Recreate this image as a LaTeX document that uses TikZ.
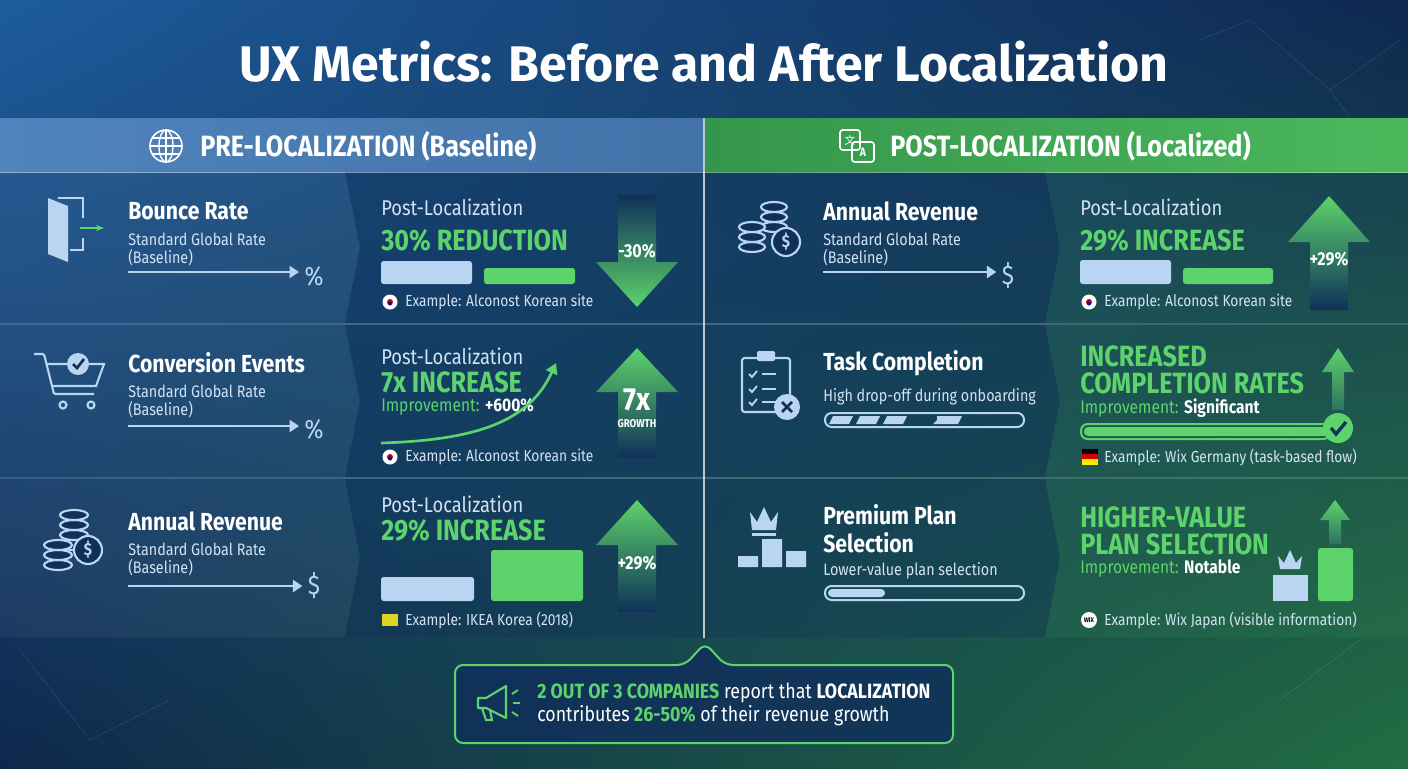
\documentclass[tikz,border=0pt]{standalone}
\usepackage{fontspec}
\setmainfont[FakeStretch=0.86]{Fira Sans}
\newfontfamily\titlefont{Fira Sans}
\newfontfamily\cjk{Noto Sans CJK SC}
\usetikzlibrary{arrows.meta,shadings}
\definecolor{gr}{HTML}{5CD36B}
\definecolor{lb}{HTML}{B9D5F2}
\definecolor{tx}{HTML}{D4E3F3}
\definecolor{navy}{HTML}{10305A}
\definecolor{bgul}{HTML}{1E5C9E}
\definecolor{bgur}{HTML}{0E2850}
\definecolor{bgll}{HTML}{0E284C}
\definecolor{bglr}{HTML}{226E42}
\definecolor{hl1}{HTML}{5084BC}
\definecolor{hl2}{HTML}{4272A8}
\definecolor{hr1}{HTML}{34964C}
\definecolor{hr2}{HTML}{4CB85C}
\tikzset{
 every node/.style={inner sep=0pt},
 ttl/.style={anchor=west,text=white,font=\bfseries\fontsize{18.5}{21}\selectfont},
 sub/.style={anchor=west,text=tx,font=\fontsize{12.5}{13.5}\selectfont,align=left},
 post/.style={anchor=west,text=tx,font=\fontsize{16}{18}\selectfont},
 big/.style={anchor=west,text=gr,font=\bfseries\fontsize{22}{20}\selectfont,align=left},
 imp/.style={anchor=west,text=gr,font=\fontsize{13.6}{15}\selectfont},
 ex/.style={anchor=west,text=tx,font=\fontsize{12}{13}\selectfont},
 ico/.style={draw=lb,line width=1.6,fill=none},
 larr/.style={draw=lb,line width=1.5,-{Triangle[length=7,width=9]}},
 sym/.style={text=lb,font=\fontsize{20}{20}\selectfont},
 sep/.style={draw=white,opacity=0.18,line width=1},
 hdr/.style={anchor=west,text=white,font=\bfseries\fontsize{22}{24}\selectfont},
}
\begin{document}
\begin{tikzpicture}[x=0.75pt,y=-0.75pt]
\useasboundingbox (0,0) rectangle (1408,768);
% background
\shade[upper left=bgul,upper right=bgur,lower left=bgll,lower right=bglr] (0,0) rectangle (1408,768);
\foreach \a/\b in {{1250,20}/{1330,90},{1330,90}/{1400,40},{1330,90}/{1380,160},{20,650}/{90,740},{90,740}/{170,700},{1280,700}/{1360,640},{1200,40}/{1250,20}}
 \draw[white,opacity=0.12] (\a) -- (\b);
% title
\node[text=white,font=\titlefont\bfseries\fontsize{37.5}{40}\selectfont] (title) at (704,62) {UX Metrics: Before and After Localization};
% headers
\shade[left color=hl1,right color=hl2] (0,118) rectangle (703,172);
\shade[left color=hr1,right color=hr2] (705,118) rectangle (1408,172);
\node[hdr] (hl) at (200,146) {PRE-LOCALIZATION (Baseline)};
\node[hdr] (hr) at (890,146) {POST-LOCALIZATION (Localized)};
% globe icon
\draw[white,line width=1.2] (166,146) circle (16);
\draw[white,line width=1] (166,130) -- (166,162) (150,146) -- (182,146) (152,138) -- (180,138) (152,154) -- (180,154);
\draw[white,line width=1] (166,146) ellipse (7 and 16);
% translate icon
\draw[white,line width=1.2,rounded corners=2] (840,130) rectangle (860,150) (852,142) rectangle (874,162);
\node[white,font=\bfseries\fontsize{9}{9}\selectfont] (tA) at (863,152) {A};
\node[white,font=\cjk\fontsize{8}{8}\selectfont] (tB) at (850,140) {文};
% panels
\foreach \y/\h in {172/151,325/152,479/158}{
 \fill[white,opacity=0.05] (0,\y) -- (345,\y) -- (360,\y+\h/2) -- (345,\y+\h) -- (0,\y+\h) -- cycle;
 \fill[navy,opacity=0.35] (345,\y) -- (703,\y) -- (703,\y+\h) -- (345,\y+\h) -- (360,\y+\h/2) -- cycle;
 \fill[navy,opacity=0.3] (705,\y) -- (1045,\y) -- (1060,\y+\h/2) -- (1045,\y+\h) -- (705,\y+\h) -- cycle;
 \fill[gr,opacity=0.08] (1045,\y) -- (1408,\y) -- (1408,\y+\h) -- (1045,\y+\h) -- (1060,\y+\h/2) -- cycle;
}
\draw[sep] (0,324) -- (1408,324) (0,478) -- (1408,478);
\draw[white,opacity=0.7,line width=1] (704,118) -- (704,638);
\draw[white,opacity=0.35] (0,172) -- (1408,172);

% ===== LEFT ROW 1 =====
\fill[lb] (48,198) -- (68,206) -- (68,262) -- (48,254) -- cycle;
\draw[ico] (58,198) -- (83,198) -- (83,218) (83,238) -- (83,250) -- (70,250);
\draw[gr,line width=2,-{Stealth[length=6]}] (80,228) -- (104,228);
\node[ttl] (t1) at (128,211) {Bounce Rate};
\node[sub] (s1) at (128,249) {Standard Global Rate\\(Baseline)};
\node[sym] (p1) at (314,276) {\%};
\coordinate (a1) at (128,272);
\draw[larr] (a1) -- ([xshift=-4]a1 -| p1.west);
\node[post] (pl1) at (381,207) {Post-Localization};
\node[big] (b1) at (381,241) {30\% REDUCTION};
\fill[lb,rounded corners=2] (381,261) rectangle (472,284);
\fill[gr,rounded corners=2] (484,268) rectangle (575,284);
\shade[top color=navy,bottom color=gr] (618,195) -- (656,195) -- (656,262) -- (678,262) -- (637,307) -- (596,262) -- (618,262) -- cycle;
\node[text=white,font=\bfseries\fontsize{14}{14}\selectfont] (d1) at (637,251) {-30\%};
\fill[white] (390,302) circle (7.5); \fill[red!80!black] (390,302) circle (3); \fill[blue!70!black] (390,303.5) circle (2);
\node[ex] (e1) at (405,302) {Example: Alconost Korean site};

% ===== LEFT ROW 2 =====
\draw[ico,rounded corners=1] (34,354) -- (44,354) -- (54,394) -- (94,394);
\draw[ico] (46,364) -- (104,364) -- (96,386) -- (52,386);
\draw[ico] (63,405) circle (3.5) (91,405) circle (3.5);
\fill[lb] (78,364) circle (11); \draw[navy,line width=2] (73,364) -- (77,368) -- (84,359);
\node[ttl] (t2) at (128,363) {Conversion Events};
\node[sub] (s2) at (128,401) {Standard Global Rate\\(Baseline)};
\node[sym] (p2) at (314,429) {\%};
\coordinate (a2) at (128,426);
\draw[larr] (a2) -- ([xshift=-4]a2 -| p2.west);
\node[post] (pl2) at (381,356) {Post-Localization};
\node[big] (b2) at (381,382) {7x INCREASE};
\node[imp] (i2) at (381,407) {Improvement: \textcolor{white}{\bfseries +600\%}};
\coordinate (c2a) at (381,443); \coordinate (c2b) at (556,363);
\draw[gr,line width=2,-{Triangle[length=8,width=9]}] (c2a) .. controls (480,440) and (530,420) .. (c2b);
\shade[top color=gr,bottom color=navy] (637,348) -- (678,392) -- (656,392) -- (656,458) -- (618,458) -- (618,392) -- (596,392) -- cycle;
\node[text=white,font=\bfseries\fontsize{24}{24}\selectfont] (g2) at (637,400) {7x};
\node[text=white,font=\bfseries\fontsize{8.5}{8}\selectfont] (g2b) at (637,424) {GROWTH};
\fill[white] (390,457) circle (7.5); \fill[red!80!black] (390,457) circle (3); \fill[blue!70!black] (390,458.5) circle (2);
\node[ex] (e2) at (405,457) {Example: Alconost Korean site};

% ===== LEFT ROW 3 =====
\foreach \yy in {545,535,525,515} \draw[ico,fill=navy] (74,\yy) ellipse (14 and 5);
\foreach \yy in {565,555,545} \draw[ico,fill=navy] (58,\yy) ellipse (14 and 5);
\draw[ico,fill=navy] (88,550) circle (14);
\node[text=lb,font=\bfseries\fontsize{13}{13}\selectfont] (dl3) at (88,550) {\$};
\node[ttl] (t3) at (128,521) {Annual Revenue};
\node[sub] (s3) at (128,559) {Standard Global Rate\\(Baseline)};
\node[sym] (p3) at (314,586) {\$};
\coordinate (a3) at (128,586);
\draw[larr] (a3) -- ([xshift=-4]a3 -| p3.west);
\node[post] (pl3) at (381,504) {Post-Localization};
\node[big] (b3) at (381,531) {29\% INCREASE};
\fill[lb,rounded corners=2] (381,577) rectangle (474,601);
\fill[gr,rounded corners=2] (491,550) rectangle (583,601);
\shade[top color=gr,bottom color=navy] (637,500) -- (678,545) -- (656,545) -- (656,612) -- (618,612) -- (618,545) -- (596,545) -- cycle;
\node[text=white,font=\bfseries\fontsize{14}{14}\selectfont] (g3) at (637,563) {+29\%};
\fill[yellow!85!black] (382,614) rectangle (398,626);
\node[ex] (e3) at (405,620) {Example: IKEA Korea (2018)};

% ===== RIGHT ROW 1 =====
\foreach \yy in {227,217,207} \draw[ico,fill=navy] (774,\yy) ellipse (13 and 5);
\foreach \yy in {247,237,227} \draw[ico,fill=navy] (752,\yy) ellipse (13 and 5);
\draw[ico,fill=navy] (786,242) circle (14);
\node[text=lb,font=\bfseries\fontsize{13}{13}\selectfont] (dr1) at (786,242) {\$};
\node[ttl] (rt1) at (823,211) {Annual Revenue};
\node[sub] (rs1) at (823,249) {Standard Global Rate\\(Baseline)};
\node[sym] (rp1) at (1008,276) {\$};
\coordinate (ra1) at (823,272);
\draw[larr] (ra1) -- ([xshift=-4]ra1 -| rp1.west);
\node[post] (rpl1) at (1080,207) {Post-Localization};
\node[big] (rb1) at (1080,241) {29\% INCREASE};
\fill[lb,rounded corners=2] (1080,260) rectangle (1171,284);
\fill[gr,rounded corners=2] (1183,268) rectangle (1273,284);
\shade[top color=gr,bottom color=navy] (1329,196) -- (1370,242) -- (1348,242) -- (1348,310) -- (1310,310) -- (1310,242) -- (1288,242) -- cycle;
\node[text=white,font=\bfseries\fontsize{14}{14}\selectfont] (rg1) at (1329,259) {+29\%};
\fill[white] (1089,302) circle (7.5); \fill[red!80!black] (1089,302) circle (3); \fill[blue!70!black] (1089,303.5) circle (2);
\node[ex] (re1) at (1104,302) {Example: Alconost Korean site};

% ===== RIGHT ROW 2 =====
\draw[ico,rounded corners=2] (742,358) rectangle (790,412);
\fill[lb,rounded corners=1] (757,351) rectangle (775,361);
\foreach \yy in {374,389,402}{ \draw[lb,line width=1.4] (749,\yy) -- (752,\yy+3) -- (757,\yy-3); \draw[lb,line width=1.6] (762,\yy) -- (776,\yy);}
\fill[lb] (787,407) circle (13);
\draw[navy,line width=2] (782,402) -- (792,412) (792,402) -- (782,412);
\node[ttl] (rt2) at (823,363) {Task Completion};
\node[sub] (rs2) at (823,397) {High drop-off during onboarding};
\draw[lb,line width=1.5,rounded corners=5] (825,413) rectangle (1024,427);
\foreach \xx in {829,856,883} \fill[lb] (\xx+4,416) -- (\xx+24,416) -- (\xx+20,424) -- (\xx,424) -- cycle;
\fill[lb] (937,416) -- (962,416) -- (958,424) -- (933,424) -- (937,420) -- cycle;
\node[big] (rb2) at (1080,370) {INCREASED\\COMPLETION RATES};
\node[imp] (ri2) at (1080,408) {Improvement: \textcolor{white}{\bfseries Significant}};
\draw[gr,line width=1.5,rounded corners=5] (1081,424) rectangle (1330,439);
\fill[gr,rounded corners=3] (1084,427) rectangle (1328,436);
\shade[top color=gr,bottom color=navy!60!gr] (1338,348) -- (1354,372) -- (1344,372) -- (1344,410) -- (1332,410) -- (1332,372) -- (1322,372) -- cycle;
\fill[gr] (1338,428) circle (15);
\draw[navy,line width=2.5] (1331,428) -- (1336,434) -- (1346,422);
\fill[black] (1082,449) rectangle (1098,454); \fill[red!85!black] (1082,454) rectangle (1098,459); \fill[yellow!90!orange] (1082,459) rectangle (1098,465);
\node[ex] (re2) at (1104,457) {Example: Wix Germany (task-based flow)};

% ===== RIGHT ROW 3 =====
\fill[lb] (738,556) rectangle (758,567) (762,539) rectangle (782,567) (786,551) rectangle (806,567);
\fill[lb] (750,512) -- (757,522) -- (764,507) -- (771,522) -- (778,512) -- (776,530) -- (752,530) -- cycle;
\fill[lb] (752,533) rectangle (776,536);
\node[ttl,align=left] (rt3) at (823,529) {Premium Plan\\Selection};
\node[sub] (rs3) at (823,571) {Lower-value plan selection};
\draw[lb,line width=1.5,rounded corners=5] (825,586) rectangle (1024,600);
\fill[lb,rounded corners=3] (828,589) rectangle (885,597);
\node[big] (rb3) at (1080,531) {HIGHER-VALUE\\PLAN SELECTION};
\node[imp] (ri3) at (1080,569) {Improvement: \textcolor{white}{\bfseries Notable}};
\fill[lb] (1273,575) rectangle (1308,601);
\fill[lb] (1278,556) -- (1284,563) -- (1290,550) -- (1296,563) -- (1302,556) -- (1300,569) -- (1280,569) -- cycle;
\fill[gr,rounded corners=2] (1318,548) rectangle (1353,601);
\shade[top color=gr,bottom color=navy!60!gr] (1335,500) -- (1350,520) -- (1341,520) -- (1341,544) -- (1329,544) -- (1329,520) -- (1320,520) -- cycle;
\fill[white] (1089,620) circle (8);
\node[font=\bfseries\fontsize{5}{5}\selectfont] (wix) at (1089,620) {WIX};
\node[ex] (re3) at (1104,620) {Example: Wix Japan (visible information)};

% ===== CALLOUT =====
\draw[gr,line width=1.5,fill=navy,fill opacity=0.85,rounded corners=6] (455,665) -- (685,665) -- (705,643) -- (725,665) -- (953,665) -- (953,743) -- (455,743) -- cycle;
\draw[gr,line width=1.6,line join=round] (478,698) -- (486,698) -- (506,686) -- (506,718) -- (486,708) -- (478,708) -- cycle;
\draw[gr,line width=1.6] (482,708) -- (486,720) -- (492,720) -- (490,710);
\draw[gr,line width=1.4] (512,694) -- (518,690) (513,703) -- (520,703) (512,712) -- (518,716);
\node[anchor=west,text=white,font=\fontsize{15.5}{17}\selectfont] (cl1) at (537,693) {\textcolor{gr}{\bfseries 2 OUT OF 3 COMPANIES} report that \textbf{LOCALIZATION}};
\node[anchor=west,text=white,font=\fontsize{15.5}{17}\selectfont] (cl2) at (537,716) {contributes \textcolor{gr}{\bfseries 26-50\%} of their revenue growth};
\end{tikzpicture}
\end{document}
